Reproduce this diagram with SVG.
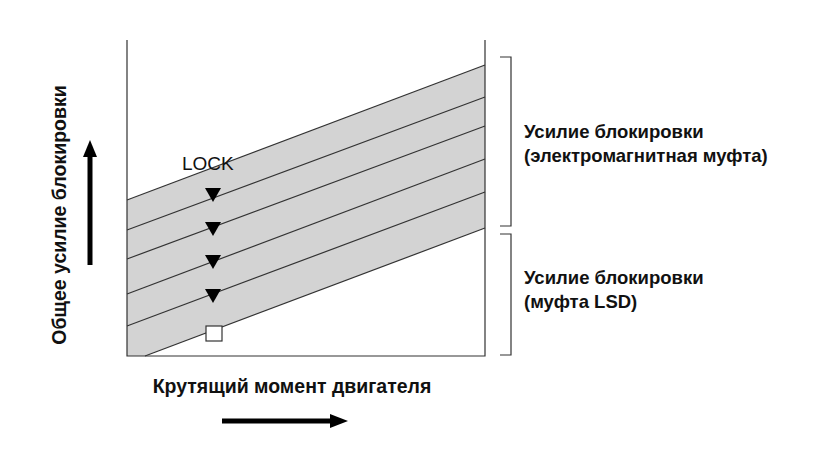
<svg xmlns="http://www.w3.org/2000/svg" width="834" height="457" viewBox="0 0 834 457">
<style>
.t{font-family:"Liberation Sans",Arial,sans-serif;font-weight:bold;font-size:18.5px;fill:#111}
.a{font-size:19.5px}
.ln{stroke:#333;stroke-width:1.2;fill:none}
.tri{fill:#000}
</style>
<rect width="834" height="457" fill="#fff"/>
<g id="band">
<polygon points="127,200 485,65 485,228 145,356 127,356" fill="#d3d3d3"/>
</g>
<g id="connectors">
<line class="ln" x1="127" y1="200" x2="485" y2="65"/>
<line class="ln" x1="127" y1="230" x2="485" y2="97"/>
<line class="ln" x1="127" y1="259" x2="485" y2="126"/>
<line class="ln" x1="127" y1="294" x2="485" y2="159"/>
<line class="ln" x1="127" y1="326" x2="485" y2="192"/>
<line class="ln" x1="145" y1="356" x2="485" y2="228"/>
<polyline class="ln" points="127,40 127,356 485,356 485,40" stroke-width="1.5"/>
<polyline class="ln" points="500,57 511,57 511,226 500,226" stroke-width="1.5"/>
<polyline class="ln" points="500,234 511,234 511,355 500,355" stroke-width="1.5"/>
<line x1="90" y1="265" x2="90" y2="155" stroke="#000" stroke-width="5"/>
<polygon points="83,157 97,157 90,140" fill="#000"/>
<line x1="222" y1="421" x2="332" y2="421" stroke="#000" stroke-width="5"/>
<polygon points="330,414 330,428 348,421" fill="#000"/>
</g>
<g id="markers">
<polygon class="tri" points="205,188 221,188 213,202"/>
<polygon class="tri" points="205,222 221,222 213,236"/>
<polygon class="tri" points="205,255 221,255 213,269"/>
<polygon class="tri" points="205,289 221,289 213,303"/>
<rect x="206" y="326" width="16" height="15" fill="#fff" stroke="#333" stroke-width="1.2"/>
</g>
<g id="labels">
<text x="182" y="170" font-family="Liberation Sans,Arial,sans-serif" font-size="19" fill="#111">LOCK</text>
<text class="t" x="524" y="138">Усилие блокировки</text>
<text class="t" x="524" y="162">(электромагнитная муфта)</text>
<text class="t" x="524" y="284">Усилие блокировки</text>
<text class="t" x="524" y="308">(муфта LSD)</text>
<text class="t a" x="292" y="393" text-anchor="middle">Крутящий момент двигателя</text>
<text class="t a" transform="translate(66,215) rotate(-90)" text-anchor="middle">Общее усилие блокировки</text>
</g>
</svg>
